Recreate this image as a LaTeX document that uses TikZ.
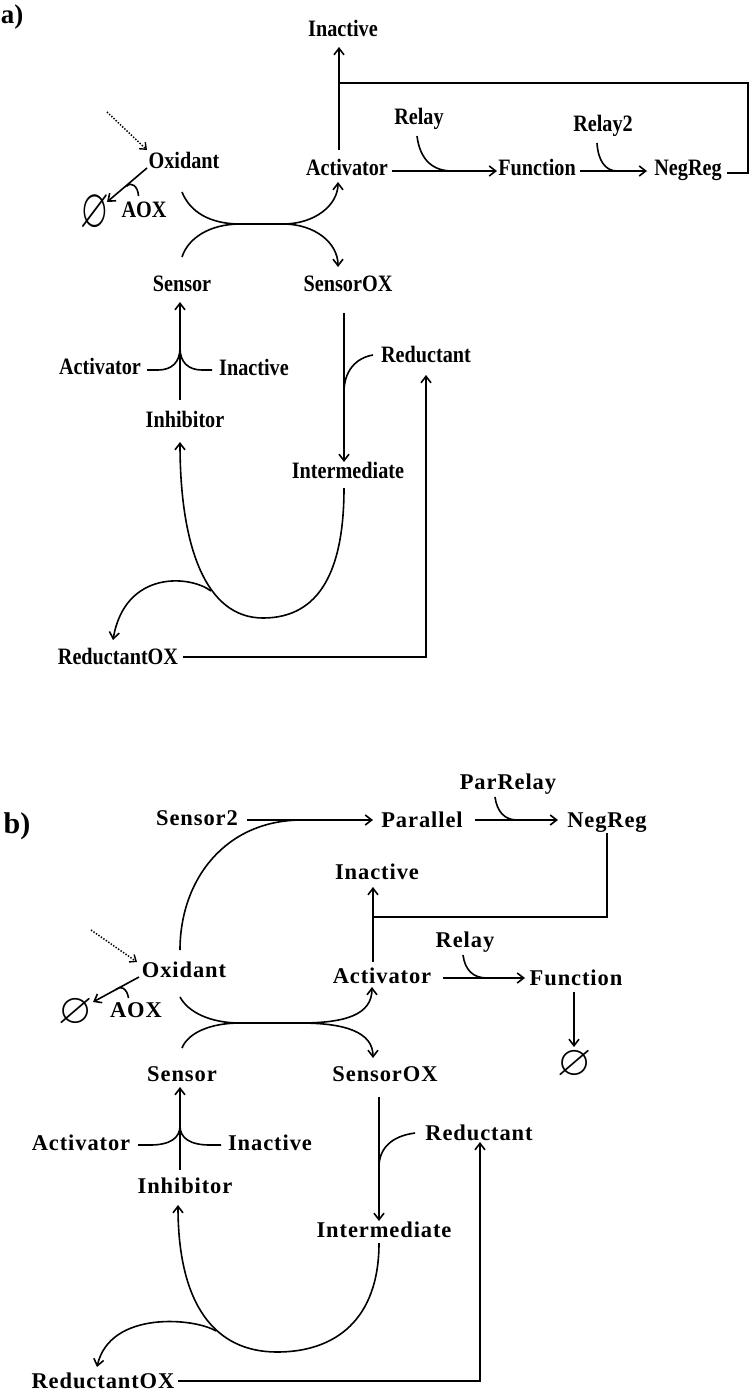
\documentclass[tikz,border=0pt]{standalone}
\usepackage{amssymb}
\usepackage{fontspec}
\setmainfont{Liberation Serif}
\newfontfamily\fa[FakeStretch=0.86]{Liberation Serif}
\newfontfamily\fb[LetterSpace=4]{Liberation Serif}
\usetikzlibrary{arrows.meta}
\tikzset{
  ta/.style={inner sep=0pt, text height=15.5pt, text depth=0pt, font=\fa\bfseries\fontsize{23.5}{24}\selectfont},
  tb/.style={inner sep=0pt, text height=15pt, text depth=0pt, font=\fb\bfseries\fontsize{22.5}{23}\selectfont},
  lab/.style={inner sep=0pt, font=\bfseries\fontsize{27}{28}\selectfont},
  labb/.style={inner sep=0pt, font=\bfseries\fontsize{30}{31}\selectfont},
  esym/.style={inner sep=0pt, font=\fontsize{10}{10}\selectfont},
  conn/.style={line width=1.6pt},
  arr/.style={conn, -{Straight Barb[length=6.5pt,width=10pt,line width=1.6pt]}},
  dotarr/.style={line width=1.5pt, dash pattern=on 1.4pt off 1.6pt, -{Straight Barb[length=5.5pt,width=9pt,line width=1.4pt]}},
}
\begin{document}
\begin{tikzpicture}[x=1pt,y=-1pt]
\useasboundingbox (0,0) rectangle (750,1392);
% ================= panel a =================
\node[lab] (la) at (12,17) {a)};
\node[ta] (aInT) at (343,29) {Inactive};
\node[ta] (aOx) at (184,161) {Oxidant};
\node[ta] (aAct) at (347,168) {Activator};
\node[ta] (aFun) at (537,168) {Function};
\node[ta] (aNeg) at (688,168) {NegReg};
\node[ta] (aRel) at (419,117) {Relay};
\node[ta] (aRel2) at (603,124) {Relay2};
\node[ta] (aAOX) at (144,210) {AOX};
\node[esym] (aE) at (95,213) {\scalebox{3.7}[5.6]{$\varnothing$}};
\node[ta] (aSen) at (182,284) {Sensor};
\node[ta] (aSOX) at (348,284) {SensorOX};
\node[ta] (aAct2) at (100,367) {Activator};
\node[ta] (aIn2) at (254,368) {Inactive};
\node[ta] (aInh) at (185,420) {Inhibitor};
\node[ta] (aRed) at (426,355) {Reductant};
\node[ta] (aInt) at (348,471) {Intermediate};
\node[ta] (aROX) at (118,657) {ReductantOX};

\coordinate (aDot0) at (107,112); \coordinate (aDot1) at (147,150);
\draw[dotarr] (aDot0) -- (aDot1);
\coordinate (aOxL) at (147,168); \coordinate (aEtip) at (107,202);
\draw[arr] (aOxL) -- (aEtip);
\draw[conn] (126.5,186.5) .. controls (131,181) and (138,186) .. (138.5,196);

% crossing curves
\coordinate (aOxB) at (182,192); \coordinate (aActB) at (338,182);
\coordinate (aSenT) at (182,257); \coordinate (aSOXT) at (338,267);
\draw[arr] (aOxB) .. controls (190,212) and (210,224) .. (240,224) -- (283,224) .. controls (315,224) and (338,205) .. (aActB);
\draw[arr] (aSenT) .. controls (188,238) and (210,224) .. (240,224) -- (283,224) .. controls (315,224) and (338,243) .. (aSOXT);

% activator -> inactive, negreg feedback
\coordinate (aActT) at (339,150); \coordinate (aInTb) at (339,47);
\draw[arr] (aActT) -- (aInTb);
\coordinate (aNegR) at (727,173); \coordinate (aJ) at (339,83);
\draw[conn] (aNegR) -- (748,173) -- (748,83) -- (aJ);

% activator -> function -> negreg
\coordinate (aActR) at (392,171); \coordinate (aFunL) at (497,171);
\draw[arr] (aActR) -- (aFunL);
\draw[conn] (417,136) .. controls (420,160) and (433,171) .. (452,171);
\coordinate (aFunR) at (580,171); \coordinate (aNegL) at (647,171);
\draw[arr] (aFunR) -- (aNegL);
\draw[conn] (597,143) .. controls (598,160) and (605,171) .. (617,171);

% inhibitor -> sensor
\coordinate (aInhT) at (180,400); \coordinate (aSenB) at (180,302);
\draw[arr] (aInhT) -- (aSenB);
\draw[conn] (147,370) -- (158,370) .. controls (172,370) and (180,362) .. (180,348);
\draw[conn] (212,370) -- (202,370) .. controls (188,370) and (180,362) .. (180,348);

% sensorOX -> intermediate
\coordinate (aSOXB) at (344,313); \coordinate (aIntT) at (344,462);
\draw[arr] (aSOXB) -- (aIntT);
\draw[conn] (373,355) .. controls (355,358) and (344,372) .. (344,392);

% U curve and branch
\coordinate (aIntB) at (344,488); \coordinate (aInhB) at (180,442);
\draw[arr] (aIntB) .. controls (344,570) and (320,618) .. (263,618) .. controls (205,618) and (180,545) .. (aInhB);
\coordinate (aROXT) at (113,640);
\draw[arr] (211,591) .. controls (190,575) and (125,570) .. (aROXT);

% reductantOX -> reductant
\coordinate (aROXR) at (183,657); \coordinate (aRedB) at (426,375);
\draw[arr] (aROXR) -- (426,657) -- (aRedB);

% ================= panel b =================
\node[labb] (lb) at (17,826) {b)};
\node[tb] (bS2) at (197,818) {Sensor2};
\node[tb] (bPar) at (422,820) {Parallel};
\node[tb] (bPR) at (508,782) {ParRelay};
\node[tb] (bNeg) at (607,820) {NegReg};
\node[tb] (bInT) at (377,872) {Inactive};
\node[tb] (bRel) at (465,940) {Relay};
\node[tb] (bAct) at (382,976) {Activator};
\node[tb] (bFun) at (576,978) {Function};
\node[esym] (bE2) at (575,1065) {\scalebox{4.4}[4.3]{$\varnothing$}};
\node[tb] (bOx) at (184,970) {Oxidant};
\node[esym] (bE) at (76,1013) {\scalebox{4.4}[4.3]{$\varnothing$}};
\node[tb] (bAOX) at (136,1010) {AOX};
\node[tb] (bSen) at (182,1074) {Sensor};
\node[tb] (bSOX) at (385,1074) {SensorOX};
\node[tb] (bAct2) at (81,1143) {Activator};
\node[tb] (bIn2) at (270,1143) {Inactive};
\node[tb] (bRed) at (479,1133) {Reductant};
\node[tb] (bInh) at (185,1186) {Inhibitor};
\node[tb] (bInt) at (384,1230) {Intermediate};
\node[tb] (bROX) at (103,1381) {ReductantOX};

% sensor2 -> parallel, oxidant joins
\coordinate (bS2R) at (247,820); \coordinate (bParL) at (373,820);
\draw[arr] (bS2R) -- (bParL);
\coordinate (bOxT) at (180,950);
\draw[conn] (bOxT) .. controls (180,880) and (225,820) .. (302,820);
% parallel -> negreg
\coordinate (bParR) at (475,820); \coordinate (bNegL) at (558,820);
\draw[arr] (bParR) -- (bNegL);
\draw[conn] (495,797) .. controls (497,812) and (505,820) .. (517,820);
% negreg feedback
\coordinate (bNegB) at (607,833); \coordinate (bJ) at (373,917);
\draw[conn] (bNegB) -- (607,917) -- (bJ);
\coordinate (bActT) at (373,962); \coordinate (bInTb) at (373,887);
\draw[arr] (bActT) -- (bInTb);
% activator -> function -> empty
\coordinate (bActR) at (443,978); \coordinate (bFunL) at (525,978);
\draw[arr] (bActR) -- (bFunL);
\draw[conn] (463,955) .. controls (465,970) and (473,978) .. (487,978);
\coordinate (bFunB) at (574,992); \coordinate (bE2T) at (574,1047);
\draw[arr] (bFunB) -- (bE2T);

% oxidant input / decay
\coordinate (bDot0) at (91,930); \coordinate (bDot1) at (137,962);
\draw[dotarr] (bDot0) -- (bDot1);
\coordinate (bOxL) at (139,977); \coordinate (bEtip) at (93,1002);
\draw[arr] (bOxL) -- (bEtip);
\draw[conn] (116,989.5) .. controls (120,985) and (127,988) .. (128.5,998);

% crossing curves
\coordinate (bOxB) at (180,997); \coordinate (bActB) at (372,987);
\coordinate (bSenT) at (182,1048); \coordinate (bSOXT) at (373,1058);
\draw[arr] (bOxB) .. controls (188,1012) and (210,1023) .. (240,1023) -- (300,1023) .. controls (345,1023) and (372,1015) .. (bActB);
\draw[arr] (bSenT) .. controls (188,1033) and (210,1023) .. (240,1023) -- (300,1023) .. controls (345,1023) and (373,1032) .. (bSOXT);

% inhibitor -> sensor
\coordinate (bInhT) at (180,1170); \coordinate (bSenB) at (180,1087);
\draw[arr] (bInhT) -- (bSenB);
\draw[conn] (138,1145) -- (150,1145) .. controls (170,1145) and (180,1138) .. (180,1126);
\draw[conn] (221,1145) -- (210,1145) .. controls (190,1145) and (180,1138) .. (180,1126);

% sensorOX -> intermediate
\coordinate (bSOXB) at (379,1097); \coordinate (bIntT) at (379,1221);
\draw[arr] (bSOXB) -- (bIntT);
\draw[conn] (415,1133) .. controls (392,1136) and (379,1148) .. (379,1167);

% U curve and branch
\coordinate (bIntB) at (379,1243); \coordinate (bInhB) at (178,1205);
\draw[arr] (bIntB) .. controls (379,1320) and (335,1352) .. (277,1352) .. controls (215,1352) and (178,1305) .. (bInhB);
\coordinate (bROXT) at (97,1367);
\draw[arr] (216,1331) .. controls (195,1318) and (110,1310) .. (bROXT);

% reductantOX -> reductant
\coordinate (bROXR) at (178,1381); \coordinate (bRedB) at (480,1142);
\draw[arr] (bROXR) -- (480,1381) -- (bRedB);
\end{tikzpicture}
\end{document}
